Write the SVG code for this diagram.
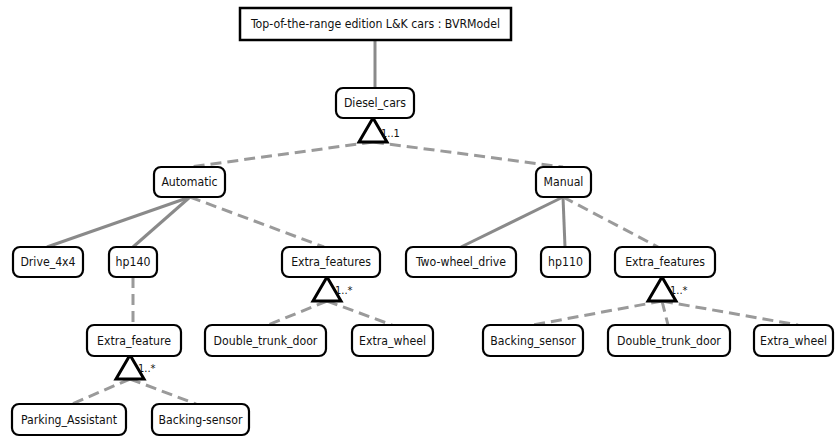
<svg xmlns="http://www.w3.org/2000/svg" width="835" height="437" viewBox="0 0 835 437">
  <style>
    .bg { fill: #ffffff; }
    .root { fill: #ffffff; stroke: #000000; stroke-width: 2.5; }
    .node { fill: #ffffff; stroke: #000000; stroke-width: 2.2; }
    .lbl { font-family: "DejaVu Sans Condensed", "DejaVu Sans", Verdana, sans-serif; font-size: 12.2px; fill: #111111; text-anchor: middle; dominant-baseline: central; }
    .card { font-family: "DejaVu Sans Condensed", "DejaVu Sans", Verdana, sans-serif; font-size: 11px; fill: #111111; }
    .solid { stroke: #8a8a8a; stroke-width: 3; fill: none; }
    .dash { stroke: #9a9a9a; stroke-width: 3; fill: none; stroke-dasharray: 11 6; }
    .tri { fill: #ffffff; stroke: #000000; stroke-width: 3; stroke-linejoin: miter; }
  </style>
  <defs>
    <polygon id="alt" class="tri" points="0,0 -14,24 14,24"/>
  </defs>
  <rect class="bg" x="0" y="0" width="835" height="437"/>

  <!-- connectors -->
  <g id="connectors">
    <line class="solid" x1="375" y1="40" x2="375" y2="88"/>
    <line class="dash" x1="373" y1="142" x2="190" y2="167"/>
    <line class="dash" x1="373" y1="142" x2="563" y2="167"/>
    <line class="solid" x1="190" y1="197" x2="47" y2="247"/>
    <line class="solid" x1="190" y1="197" x2="133" y2="247"/>
    <line class="dash" x1="190" y1="197" x2="324" y2="247"/>
    <line class="solid" x1="563" y1="197" x2="461" y2="247"/>
    <line class="solid" x1="563" y1="197" x2="565" y2="247"/>
    <line class="dash" x1="563" y1="197" x2="658" y2="247"/>
    <line class="dash" x1="133" y1="277" x2="133" y2="325"/>
    <line class="dash" x1="327" y1="301" x2="268" y2="325"/>
    <line class="dash" x1="327" y1="301" x2="392" y2="325"/>
    <line class="dash" x1="130" y1="379" x2="72" y2="404"/>
    <line class="dash" x1="130" y1="379" x2="196" y2="404"/>
    <line class="dash" x1="662" y1="301" x2="533" y2="325"/>
    <line class="dash" x1="662" y1="301" x2="668" y2="325"/>
    <line class="dash" x1="662" y1="301" x2="798" y2="325"/>
  </g>

  <!-- alternative / or group markers -->
  <g id="groups">
    <use href="#alt" x="373" y="118"/>
    <text class="card" x="381" y="137">1..1</text>
    <use href="#alt" x="327" y="277"/>
    <text class="card" x="335" y="294">1..*</text>
    <use href="#alt" x="130" y="355"/>
    <text class="card" x="138" y="372">1..*</text>
    <use href="#alt" x="662" y="277"/>
    <text class="card" x="670" y="294">1..*</text>
  </g>

  <g id="model">
    <rect class="root" x="240" y="8" width="271" height="32"/>
    <text class="lbl" x="375.5" y="24">Top-of-the-range edition L&amp;K cars : BVRModel</text>
  </g>
  <g id="diesel_cars">
    <rect class="node" x="336" y="88" width="78" height="30" rx="7"/>
    <text class="lbl" x="375" y="103">Diesel_cars</text>
  </g>
  <g id="automatic">
    <rect class="node" x="154" y="167" width="71" height="30" rx="7"/>
    <text class="lbl" x="189.5" y="182">Automatic</text>
  </g>
  <g id="manual">
    <rect class="node" x="536" y="167" width="55" height="30" rx="7"/>
    <text class="lbl" x="563.5" y="182">Manual</text>
  </g>
  <g id="drive_4x4">
    <rect class="node" x="13" y="247" width="70" height="30" rx="7"/>
    <text class="lbl" x="48" y="262">Drive_4x4</text>
  </g>
  <g id="hp140">
    <rect class="node" x="109" y="247" width="48" height="30" rx="7"/>
    <text class="lbl" x="133" y="262">hp140</text>
  </g>
  <g id="extra_features_auto">
    <rect class="node" x="282" y="247" width="98" height="30" rx="7"/>
    <text class="lbl" x="331" y="262">Extra_features</text>
  </g>
  <g id="two_wheel_drive">
    <rect class="node" x="406" y="247" width="110" height="30" rx="7"/>
    <text class="lbl" x="461" y="262">Two-wheel_drive</text>
  </g>
  <g id="hp110">
    <rect class="node" x="541" y="247" width="49" height="30" rx="7"/>
    <text class="lbl" x="565.5" y="262">hp110</text>
  </g>
  <g id="extra_features_manual">
    <rect class="node" x="615" y="247" width="100" height="30" rx="7"/>
    <text class="lbl" x="665" y="262">Extra_features</text>
  </g>
  <g id="extra_feature">
    <rect class="node" x="87" y="325" width="94" height="31" rx="7"/>
    <text class="lbl" x="134" y="340.5">Extra_feature</text>
  </g>
  <g id="double_trunk_door_auto">
    <rect class="node" x="205" y="325" width="121" height="31" rx="7"/>
    <text class="lbl" x="265.5" y="340.5">Double_trunk_door</text>
  </g>
  <g id="extra_wheel_auto">
    <rect class="node" x="352" y="325" width="81" height="31" rx="7"/>
    <text class="lbl" x="392.5" y="340.5">Extra_wheel</text>
  </g>
  <g id="backing_sensor_manual">
    <rect class="node" x="483" y="325" width="100" height="31" rx="7"/>
    <text class="lbl" x="533" y="340.5">Backing_sensor</text>
  </g>
  <g id="double_trunk_door_manual">
    <rect class="node" x="608" y="325" width="122" height="31" rx="7"/>
    <text class="lbl" x="669" y="340.5">Double_trunk_door</text>
  </g>
  <g id="extra_wheel_manual">
    <rect class="node" x="754" y="325" width="79" height="31" rx="7"/>
    <text class="lbl" x="793.5" y="340.5">Extra_wheel</text>
  </g>
  <g id="parking_assistant">
    <rect class="node" x="12" y="404" width="114" height="31" rx="7"/>
    <text class="lbl" x="69" y="419.5">Parking_Assistant</text>
  </g>
  <g id="backing_sensor_auto">
    <rect class="node" x="152" y="404" width="97" height="31" rx="7"/>
    <text class="lbl" x="200.5" y="419.5">Backing-sensor</text>
  </g>
</svg>
